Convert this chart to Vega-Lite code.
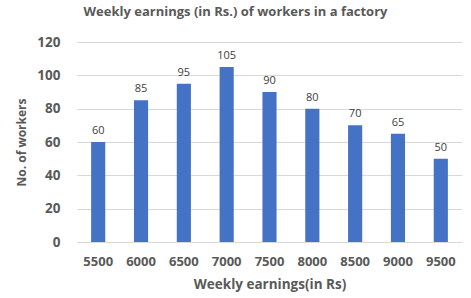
{
  "$schema": "https://vega.github.io/schema/vega-lite/v6.json",
  "width": 385,
  "height": 200,
  "autosize": "none",
  "padding": {"left": 77, "top": 42, "right": 9, "bottom": 56},
  "background": "white",
  "title": {
    "text": "Weekly earnings (in Rs.) of workers in a factory",
    "font": "Open Sans",
    "fontSize": 13,
    "fontWeight": "bold",
    "color": "#595959",
    "anchor": "middle",
    "dx": -34,
    "offset": 16
  },
  "data": {
    "values": [
      {"earnings": "5500", "workers": 60},
      {"earnings": "6000", "workers": 85},
      {"earnings": "6500", "workers": 95},
      {"earnings": "7000", "workers": 105},
      {"earnings": "7500", "workers": 90},
      {"earnings": "8000", "workers": 80},
      {"earnings": "8500", "workers": 70},
      {"earnings": "9000", "workers": 65},
      {"earnings": "9500", "workers": 50}
    ]
  },
  "encoding": {
    "x": {
      "field": "earnings",
      "type": "ordinal",
      "sort": null,
      "scale": {"paddingInner": 0.67, "paddingOuter": 0.33},
      "axis": {
        "title": "Weekly earnings(in Rs)",
        "labelAngle": 0,
        "labelFont": "Open Sans",
        "labelFontSize": 13,
        "labelFontWeight": "bold",
        "labelColor": "#595959",
        "labelPadding": 13,
        "ticks": false,
        "domainColor": "#d9d9d9",
        "titleFont": "Open Sans",
        "titleFontSize": 13.5,
        "titleFontWeight": "bold",
        "titleColor": "#595959",
        "titlePadding": 9
      }
    },
    "y": {
      "field": "workers",
      "type": "quantitative",
      "scale": {"domain": [0, 120]},
      "axis": {
        "title": "No. of workers",
        "values": [0, 20, 40, 60, 80, 100, 120],
        "labelFont": "Open Sans",
        "labelFontSize": 13.5,
        "labelFontWeight": "bold",
        "labelColor": "#595959",
        "labelPadding": 17,
        "ticks": false,
        "domain": false,
        "gridColor": "#d9d9d9",
        "titleFont": "Open Sans",
        "titleFontSize": 12,
        "titleFontWeight": "bold",
        "titleColor": "#595959",
        "titlePadding": 8
      }
    }
  },
  "layer": [
    {"mark": {"type": "bar", "color": "#4472C4"}},
    {
      "mark": {"type": "text", "dy": -11, "font": "Open Sans", "fontSize": 11, "color": "#404040"},
      "encoding": {"text": {"field": "workers", "type": "quantitative"}}
    }
  ],
  "config": {"view": {"stroke": null}}
}
